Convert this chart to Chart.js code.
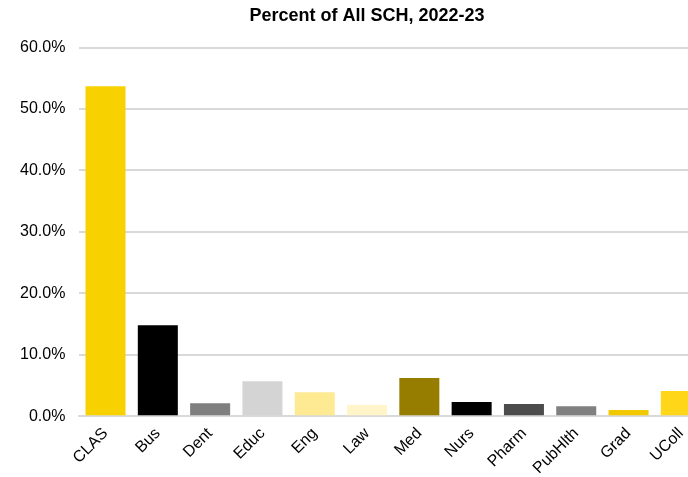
<!DOCTYPE html>
<html>
<head>
<meta charset="utf-8">
<script src="https://cdn.jsdelivr.net/npm/chart.js@4"></script>
<style>
  html, body { margin: 0; padding: 0; background: #fff; overflow: hidden; }
  #wrap { width: 688px; height: 477px; overflow: hidden; }
</style>
</head>
<body>
<div id="wrap"><canvas id="sch" width="734" height="486"></canvas></div>
<script>
// data
const colleges = ["CLAS", "Bus", "Dent", "Educ", "Eng", "Law", "Med", "Nurs", "Pharm", "PubHlth", "Grad", "UColl"];
const pctSCH = [53.7, 14.8, 2.1, 5.7, 3.9, 1.8, 6.2, 2.3, 2.0, 1.6, 1.0, 4.1];
const barColors = ["#F7D100", "#000000", "#7F7F7F", "#D4D4D4", "#FFEA94", "#FFF5C8", "#967D00", "#000000", "#4C4C4C", "#808080", "#F2C800", "#FFD618"];
const yTicks = [0, 10, 20, 30, 40, 50, 60];

// centre the title on the whole canvas, not between the layout paddings
const centerTitle = {
  id: "centerTitle",
  afterLayout(chart) {
    if (chart.titleBlock) {
      chart.titleBlock.left = 0;
      chart.titleBlock.right = chart.width;
      chart.titleBlock.width = chart.width;
    }
  },
};

const ctx = document.getElementById("sch").getContext("2d");
const chart = new Chart(ctx, {
  type: "bar",
  data: {
    labels: colleges,
    datasets: [
      {
        label: "Percent of All SCH",
        data: pctSCH,
        backgroundColor: barColors,
        barPercentage: 0.765,
        categoryPercentage: 1.0,
      },
    ],
  },
  plugins: [centerTitle],
  options: {
    responsive: false,
    animation: false,
    devicePixelRatio: 1,
    layout: { padding: { left: 6, right: 27, top: 0, bottom: 0 } },
    plugins: {
      legend: { display: false },
      tooltip: { enabled: false },
      title: {
        display: true,
        text: "Percent of All SCH, 2022-23",
        color: "#000",
        font: { family: "Liberation Sans, Arial", size: 18, weight: "bold" },
        padding: { top: 5, bottom: 21 },
      },
    },
    scales: {
      x: {
        grid: { display: false, drawTicks: false },
        border: { display: true, color: "#D9D9D9", width: 2 },
        ticks: {
          color: "#000",
          font: { family: "Liberation Sans, Arial", size: 16 },
          maxRotation: 45,
          minRotation: 45,
          padding: 8,
        },
      },
      y: {
        min: 0,
        max: 60,
        afterBuildTicks: (axis) => {
          axis.ticks = yTicks.map((v) => ({ value: v }));
        },
        grid: { color: "#D9D9D9", lineWidth: 2, drawTicks: false },
        border: { display: false },
        ticks: {
          color: "#000",
          font: { family: "Liberation Sans, Arial", size: 16 },
          padding: 14,
          callback: (v) => v.toFixed(1) + "%",
        },
      },
    },
  },
});
</script>
</body>
</html>
